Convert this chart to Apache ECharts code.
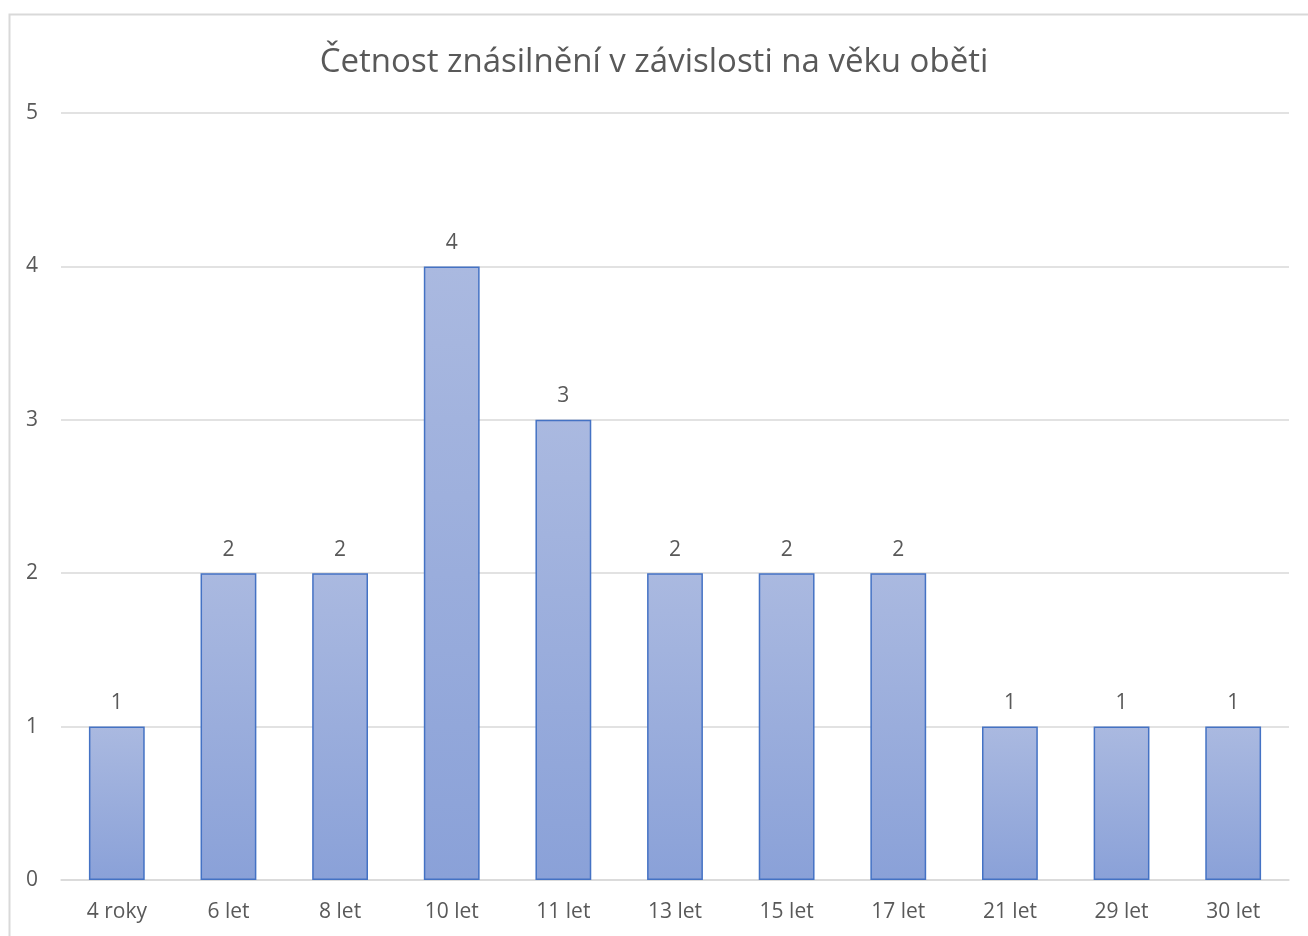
<!DOCTYPE html>
<html><head><meta charset="utf-8">
<script src="https://cdn.jsdelivr.net/npm/echarts@6/dist/echarts.min.js"></script>
<style>html,body{margin:0;padding:0;background:#fff}#c{width:1308px;height:936px}</style>
</head><body><div id="c"></div>
<script>
const categories = ['4 roky','6 let','8 let','10 let','11 let','13 let','15 let','17 let','21 let','29 let','30 let'];
const values = [1,2,2,4,3,2,2,2,1,1,1];
const titleText = 'Četnost znásilnění v závislosti na věku oběti';
const chart = echarts.init(document.getElementById('c'), null, {renderer:'canvas'});
const font = 'Open Sans';
chart.setOption({
  backgroundColor:'#fff',
  animation:false,
  graphic:[{type:'rect',shape:{x:9.5,y:14.5,width:1310,height:930},style:{fill:'none',stroke:'#d9d9d9',lineWidth:2}}],
  title:{text:titleText,left:'center',top:41,textStyle:{fontFamily:font,fontSize:33,fontWeight:'normal',color:'#595959'}},
  grid:{left:61,right:19,top:113,bottom:56},
  xAxis:{type:'category',data:categories,axisTick:{show:false},
    axisLine:{lineStyle:{color:'#d9d9d9',width:1.5}},
    axisLabel:{fontFamily:font,fontSize:21,color:'#595959',margin:22}},
  yAxis:{type:'value',min:0,max:5,interval:1,
    axisLabel:{fontFamily:font,fontSize:21,color:'#595959',margin:23}},
  series:[{type:'bar',data:values,barWidth:'50%',
    itemStyle:{borderColor:'#4472c4',borderWidth:1.5,
      color:new echarts.graphic.LinearGradient(0,0,0,1,[{offset:0,color:'#aab9e0'},{offset:1,color:'#8aa1d8'}],false)},
    label:{show:true,position:'top',distance:13,fontFamily:font,fontSize:21,color:'#595959'}}]
});
chart.setOption({yAxis:{splitLine:{lineStyle:{color:'#d9d9d9',width:1.5}}}});
</script></body></html>
